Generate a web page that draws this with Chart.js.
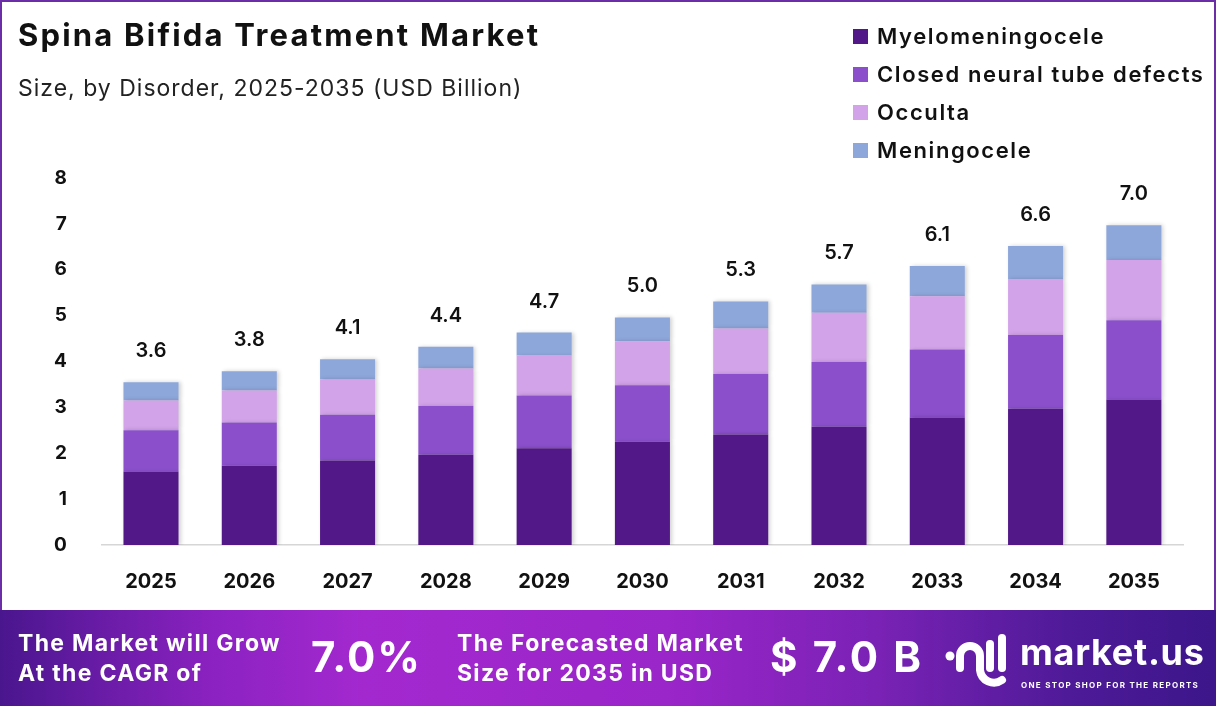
<!DOCTYPE html>
<html>
<head>
<meta charset="utf-8">
<title>Spina Bifida Treatment Market</title>
<script src="https://cdn.jsdelivr.net/npm/chart.js@4.4.1/dist/chart.umd.min.js"></script>
<style>
  body { margin: 0; background: #fff; font-family: Inter, "Open Sans", sans-serif; }
  #wrap { position: relative; width: 1216px; height: 706px; overflow: hidden; }
  #frame { position: absolute; left: 0; top: 0; width: 1212px; height: 612px; border: 2px solid #6c2ea6; border-bottom: none; }
  #chartBox { position: absolute; left: 0; top: 0; width: 1216px; height: 640px; }
  #title { position: absolute; left: 18px; top: 16px; font-size: 31px; font-weight: 700; color: #111; letter-spacing: 2.2px; }
  #subtitle { position: absolute; left: 18px; top: 74px; font-size: 23px; color: #222; letter-spacing: 1px; }
  #legend { position: absolute; left: 853px; top: 17px; }
  .lg { height: 38px; display: flex; align-items: center; font-size: 22px; font-weight: 600; color: #111; letter-spacing: 1.6px; }
  .lg span.sw { width: 15px; height: 15px; margin-right: 9px; display: inline-block; }
  #footer { position: absolute; left: 0; top: 610px; width: 1216px; height: 96px;
    background: linear-gradient(90deg, #4a168e 0%, #8d22c2 18%, #a329cf 30%, #9a25c9 55%, #7a22b5 72%, #4e1a98 88%, #3c168a 100%); color: #fff; }
  .ft { position: absolute; font-weight: 700; }
  .two { top: 18px; font-size: 23px; line-height: 30px; letter-spacing: 1.3px; }
  .big { top: 23px; font-size: 42px; line-height: 48px; letter-spacing: 2px; }
</style>
</head>
<body>
<div id="wrap">
  <div id="chartBox"><canvas id="chart" width="1216" height="640"></canvas></div>
  <div id="frame"></div>
  <div id="title">Spina Bifida Treatment Market</div>
  <div id="subtitle">Size, by Disorder, 2025-2035 (USD Billion)</div>
  <div id="legend"></div>
  <div id="footer">
    <div class="ft two" style="left:18px">The Market will Grow<br>At the CAGR of</div>
    <div class="ft big" style="left:311px">7.0%</div>
    <div class="ft two" style="left:457px">The Forecasted Market<br>Size for 2035 in USD</div>
    <div class="ft big" style="left:770px;letter-spacing:2.6px">$ 7.0 B</div>
    <svg style="position:absolute;left:940px;top:22px" width="75" height="60" viewBox="0 0 75 60">
      <circle cx="10" cy="24" r="4.5" fill="#fff"/>
      <path d="M20,36 V24 A10,10 0 0 1 40,24 V38 A14,14 0 0 0 62,48" stroke="#fff" stroke-width="8" fill="none" stroke-linecap="round"/>
      <line x1="50" y1="12" x2="50" y2="36" stroke="#fff" stroke-width="8" stroke-linecap="round"/>
      <line x1="62" y1="6" x2="62" y2="36" stroke="#fff" stroke-width="8" stroke-linecap="round"/>
    </svg>
    <div class="ft" style="left:1020px;top:20px;font-size:36px;line-height:44px;letter-spacing:0.7px">market.us</div>
    <div class="ft" style="left:1021px;top:70px;font-size:8px;letter-spacing:1.3px">ONE STOP SHOP FOR THE REPORTS</div>
  </div>
</div>
<script>
const years = ['2025','2026','2027','2028','2029','2030','2031','2032','2033','2034','2035'];
const seriesNames = ['Myelomeningocele','Closed neural tube defects','Occulta','Meningocele'];
const myelomeningocele = [1.60,1.73,1.84,1.97,2.11,2.25,2.41,2.58,2.78,2.97,3.17];
const closedNTD        = [0.90,0.94,1.00,1.06,1.15,1.23,1.32,1.41,1.48,1.61,1.73];
const occulta          = [0.65,0.70,0.77,0.82,0.87,0.96,0.99,1.07,1.16,1.22,1.31];
const meningocele      = [0.40,0.42,0.44,0.47,0.50,0.52,0.59,0.62,0.66,0.72,0.76];
const totalLabels = ['3.6','3.8','4.1','4.4','4.7','5.0','5.3','5.7','6.1','6.6','7.0'];
const colors = ['#521887','#8b4fcc','#d3a3ea','#8ea7db'];

// labels above each stack
const totalsPlugin = {
  id: 'totals',
  afterDatasetsDraw(chart) {
    const ctx = chart.ctx;
    const meta = chart.getDatasetMeta(chart.data.datasets.length - 1);
    ctx.save();
    ctx.font = '600 20px Inter';
    ctx.fillStyle = '#111';
    ctx.textAlign = 'center';
    ctx.textBaseline = 'middle';
    meta.data.forEach(function(bar, i) {
      ctx.fillText(totalLabels[i], bar.x, bar.y - 31);
    });
    ctx.restore();
  }
};

// soft shadow on the bars
const shadowPlugin = {
  id: 'barShadow',
  beforeDatasetsDraw(chart) {
    const ctx = chart.ctx;
    ctx.save();
    ctx.shadowColor = 'rgba(0,0,0,0.18)';
    ctx.shadowBlur = 4;
    ctx.shadowOffsetX = 2;
  },
  afterDatasetsDraw(chart) {
    chart.ctx.restore();
  }
};

const seriesData = [myelomeningocele, closedNTD, occulta, meningocele];

const ctx = document.getElementById('chart').getContext('2d');
const chart = new Chart(ctx, {
  type: 'bar',
  data: {
    labels: years,
    datasets: seriesNames.map(function(name, i) {
      return {
        label: name,
        data: seriesData[i],
        backgroundColor: colors[i],
        categoryPercentage: 1,
        barPercentage: 0.56
      };
    })
  },
  plugins: [shadowPlugin, totalsPlugin],
  options: {
    responsive: false,
    animation: false,
    layout: { padding: { left: 27, top: 178, right: 33, bottom: 29 } },
    plugins: {
      legend: { display: false },
      tooltip: { enabled: false }
    },
    scales: {
      x: {
        stacked: true,
        grid: { display: false },
        border: { display: true, color: '#d6d6d6', width: 1.5 },
        ticks: { color: '#111', font: { family: 'Inter', size: 20, weight: '700' }, padding: 17 }
      },
      y: {
        stacked: true,
        min: 0,
        max: 8,
        grid: { display: false },
        border: { display: false },
        ticks: { stepSize: 1, color: '#111', font: { family: 'Inter', size: 19, weight: '700' }, padding: 27 }
      }
    }
  }
});

// legend built from the datasets
const legendEl = document.getElementById('legend');
chart.data.datasets.forEach(function(ds) {
  const row = document.createElement('div');
  row.className = 'lg';
  row.innerHTML = '<span class="sw" style="background:' + ds.backgroundColor + '"></span>' + ds.label;
  legendEl.appendChild(row);
});
</script>
</body>
</html>
